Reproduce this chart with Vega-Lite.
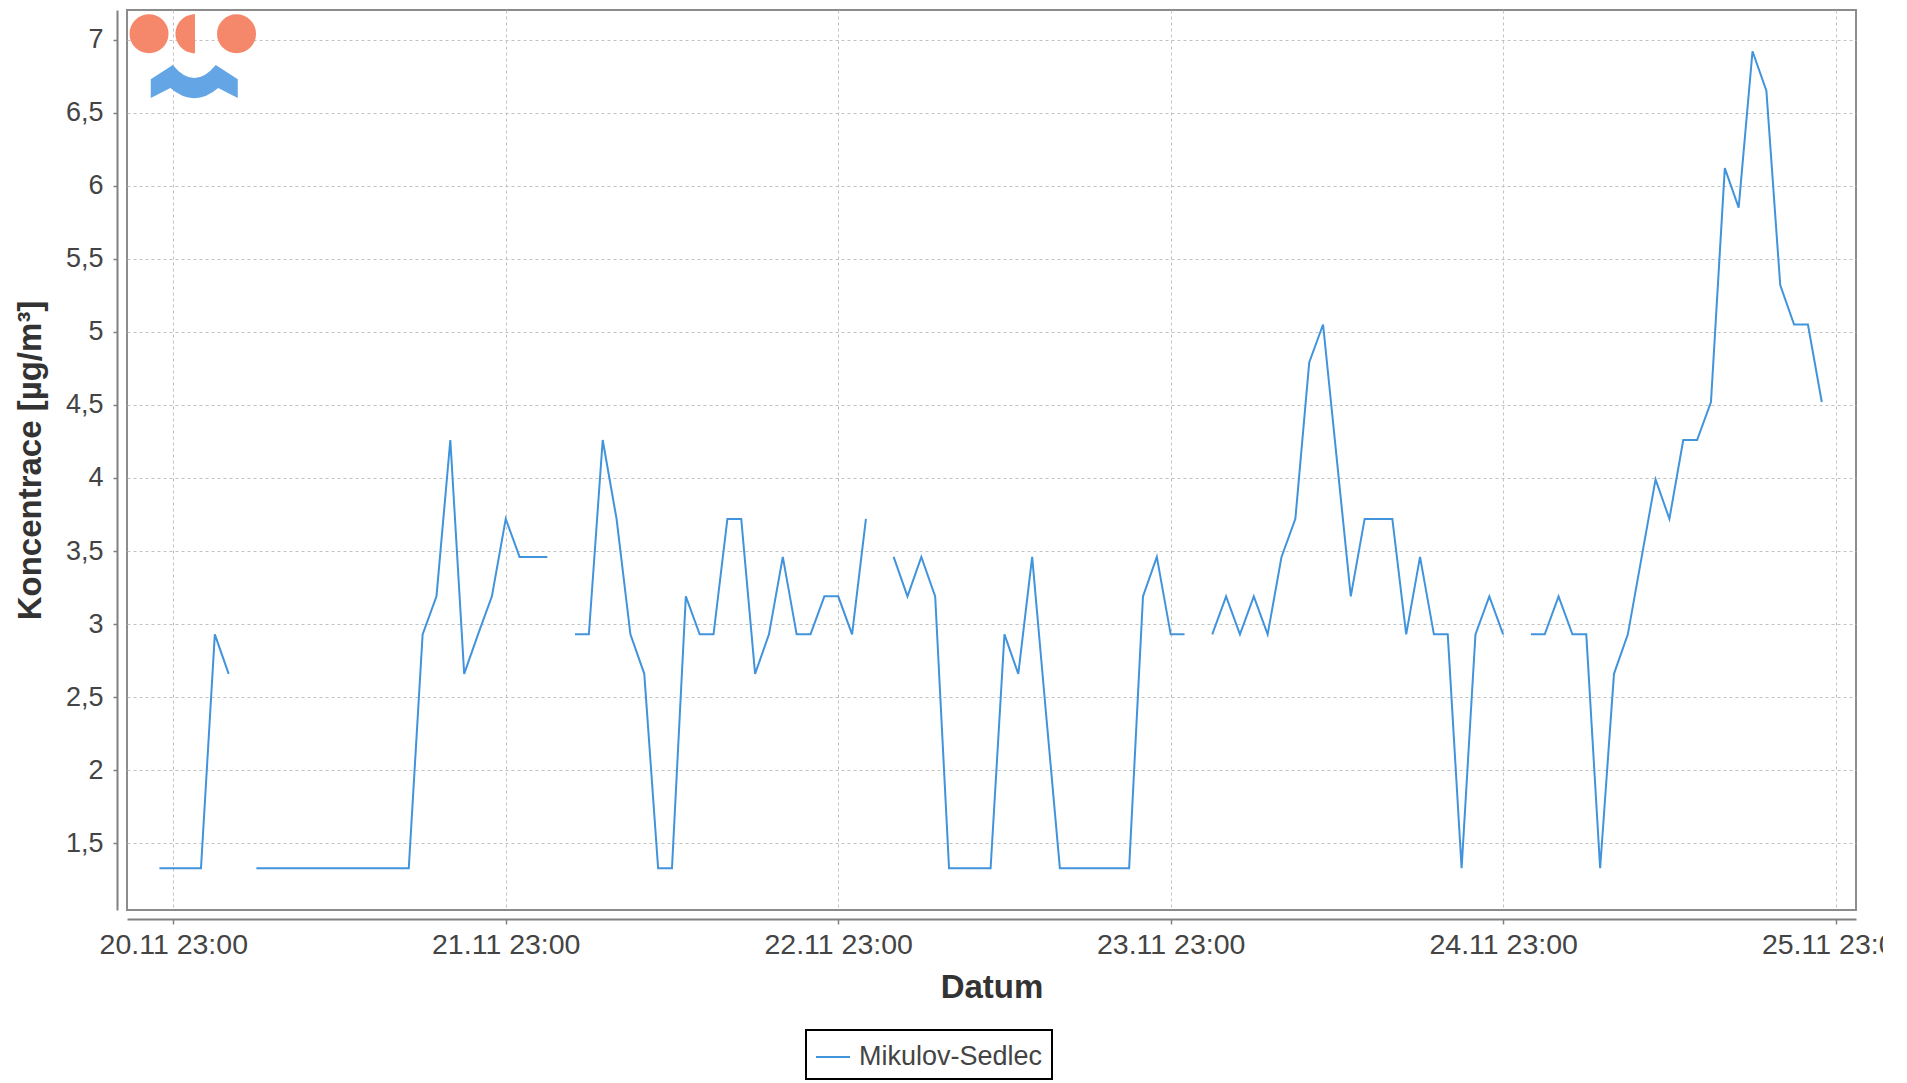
{
  "$schema": "https://vega.github.io/schema/vega-lite/v6.json",
  "width": 1729,
  "height": 900,
  "autosize": {"type": "none"},
  "padding": {"left": 127, "top": 10, "right": 27, "bottom": 173},
  "background": "white",
  "config": {
    "font": "Liberation Sans",
    "view": {"stroke": "#8c8c8c", "strokeWidth": 2},
    "axis": {
      "domainColor": "#808080",
      "domainWidth": 2,
      "tickColor": "#808080",
      "tickWidth": 1.5,
      "tickSize": 5,
      "gridColor": "#c2c2c2",
      "gridDash": [3, 3],
      "gridWidth": 1,
      "labelFont": "Liberation Sans",
      "labelFontSize": 27,
      "labelColor": "#444444",
      "titleFont": "Liberation Sans",
      "titleFontSize": 33,
      "titleFontWeight": "bold",
      "titleColor": "#333333"
    },
    "legend": {"strokeWidth": 2}
  },
  "datasets": {
    "series": [
      {"t": "2023-11-20T22:00:00Z", "c": 1.33, "s": "Mikulov-Sedlec"},
      {"t": "2023-11-20T23:00:00Z", "c": 1.33, "s": "Mikulov-Sedlec"},
      {"t": "2023-11-21T00:00:00Z", "c": 1.33, "s": "Mikulov-Sedlec"},
      {"t": "2023-11-21T01:00:00Z", "c": 1.33, "s": "Mikulov-Sedlec"},
      {"t": "2023-11-21T02:00:00Z", "c": 2.93, "s": "Mikulov-Sedlec"},
      {"t": "2023-11-21T03:00:00Z", "c": 2.66, "s": "Mikulov-Sedlec"},
      {"t": "2023-11-21T04:00:00Z", "c": null, "s": "Mikulov-Sedlec"},
      {"t": "2023-11-21T05:00:00Z", "c": 1.33, "s": "Mikulov-Sedlec"},
      {"t": "2023-11-21T06:00:00Z", "c": 1.33, "s": "Mikulov-Sedlec"},
      {"t": "2023-11-21T07:00:00Z", "c": 1.33, "s": "Mikulov-Sedlec"},
      {"t": "2023-11-21T08:00:00Z", "c": 1.33, "s": "Mikulov-Sedlec"},
      {"t": "2023-11-21T09:00:00Z", "c": 1.33, "s": "Mikulov-Sedlec"},
      {"t": "2023-11-21T10:00:00Z", "c": 1.33, "s": "Mikulov-Sedlec"},
      {"t": "2023-11-21T11:00:00Z", "c": 1.33, "s": "Mikulov-Sedlec"},
      {"t": "2023-11-21T12:00:00Z", "c": 1.33, "s": "Mikulov-Sedlec"},
      {"t": "2023-11-21T13:00:00Z", "c": 1.33, "s": "Mikulov-Sedlec"},
      {"t": "2023-11-21T14:00:00Z", "c": 1.33, "s": "Mikulov-Sedlec"},
      {"t": "2023-11-21T15:00:00Z", "c": 1.33, "s": "Mikulov-Sedlec"},
      {"t": "2023-11-21T16:00:00Z", "c": 1.33, "s": "Mikulov-Sedlec"},
      {"t": "2023-11-21T17:00:00Z", "c": 2.93, "s": "Mikulov-Sedlec"},
      {"t": "2023-11-21T18:00:00Z", "c": 3.19, "s": "Mikulov-Sedlec"},
      {"t": "2023-11-21T19:00:00Z", "c": 4.26, "s": "Mikulov-Sedlec"},
      {"t": "2023-11-21T20:00:00Z", "c": 2.66, "s": "Mikulov-Sedlec"},
      {"t": "2023-11-21T21:00:00Z", "c": 2.93, "s": "Mikulov-Sedlec"},
      {"t": "2023-11-21T22:00:00Z", "c": 3.19, "s": "Mikulov-Sedlec"},
      {"t": "2023-11-21T23:00:00Z", "c": 3.72, "s": "Mikulov-Sedlec"},
      {"t": "2023-11-22T00:00:00Z", "c": 3.46, "s": "Mikulov-Sedlec"},
      {"t": "2023-11-22T01:00:00Z", "c": 3.46, "s": "Mikulov-Sedlec"},
      {"t": "2023-11-22T02:00:00Z", "c": 3.46, "s": "Mikulov-Sedlec"},
      {"t": "2023-11-22T03:00:00Z", "c": null, "s": "Mikulov-Sedlec"},
      {"t": "2023-11-22T04:00:00Z", "c": 2.93, "s": "Mikulov-Sedlec"},
      {"t": "2023-11-22T05:00:00Z", "c": 2.93, "s": "Mikulov-Sedlec"},
      {"t": "2023-11-22T06:00:00Z", "c": 4.26, "s": "Mikulov-Sedlec"},
      {"t": "2023-11-22T07:00:00Z", "c": 3.72, "s": "Mikulov-Sedlec"},
      {"t": "2023-11-22T08:00:00Z", "c": 2.93, "s": "Mikulov-Sedlec"},
      {"t": "2023-11-22T09:00:00Z", "c": 2.66, "s": "Mikulov-Sedlec"},
      {"t": "2023-11-22T10:00:00Z", "c": 1.33, "s": "Mikulov-Sedlec"},
      {"t": "2023-11-22T11:00:00Z", "c": 1.33, "s": "Mikulov-Sedlec"},
      {"t": "2023-11-22T12:00:00Z", "c": 3.19, "s": "Mikulov-Sedlec"},
      {"t": "2023-11-22T13:00:00Z", "c": 2.93, "s": "Mikulov-Sedlec"},
      {"t": "2023-11-22T14:00:00Z", "c": 2.93, "s": "Mikulov-Sedlec"},
      {"t": "2023-11-22T15:00:00Z", "c": 3.72, "s": "Mikulov-Sedlec"},
      {"t": "2023-11-22T16:00:00Z", "c": 3.72, "s": "Mikulov-Sedlec"},
      {"t": "2023-11-22T17:00:00Z", "c": 2.66, "s": "Mikulov-Sedlec"},
      {"t": "2023-11-22T18:00:00Z", "c": 2.93, "s": "Mikulov-Sedlec"},
      {"t": "2023-11-22T19:00:00Z", "c": 3.46, "s": "Mikulov-Sedlec"},
      {"t": "2023-11-22T20:00:00Z", "c": 2.93, "s": "Mikulov-Sedlec"},
      {"t": "2023-11-22T21:00:00Z", "c": 2.93, "s": "Mikulov-Sedlec"},
      {"t": "2023-11-22T22:00:00Z", "c": 3.19, "s": "Mikulov-Sedlec"},
      {"t": "2023-11-22T23:00:00Z", "c": 3.19, "s": "Mikulov-Sedlec"},
      {"t": "2023-11-23T00:00:00Z", "c": 2.93, "s": "Mikulov-Sedlec"},
      {"t": "2023-11-23T01:00:00Z", "c": 3.72, "s": "Mikulov-Sedlec"},
      {"t": "2023-11-23T02:00:00Z", "c": null, "s": "Mikulov-Sedlec"},
      {"t": "2023-11-23T03:00:00Z", "c": 3.46, "s": "Mikulov-Sedlec"},
      {"t": "2023-11-23T04:00:00Z", "c": 3.19, "s": "Mikulov-Sedlec"},
      {"t": "2023-11-23T05:00:00Z", "c": 3.46, "s": "Mikulov-Sedlec"},
      {"t": "2023-11-23T06:00:00Z", "c": 3.19, "s": "Mikulov-Sedlec"},
      {"t": "2023-11-23T07:00:00Z", "c": 1.33, "s": "Mikulov-Sedlec"},
      {"t": "2023-11-23T08:00:00Z", "c": 1.33, "s": "Mikulov-Sedlec"},
      {"t": "2023-11-23T09:00:00Z", "c": 1.33, "s": "Mikulov-Sedlec"},
      {"t": "2023-11-23T10:00:00Z", "c": 1.33, "s": "Mikulov-Sedlec"},
      {"t": "2023-11-23T11:00:00Z", "c": 2.93, "s": "Mikulov-Sedlec"},
      {"t": "2023-11-23T12:00:00Z", "c": 2.66, "s": "Mikulov-Sedlec"},
      {"t": "2023-11-23T13:00:00Z", "c": 3.46, "s": "Mikulov-Sedlec"},
      {"t": "2023-11-23T14:00:00Z", "c": 2.39, "s": "Mikulov-Sedlec"},
      {"t": "2023-11-23T15:00:00Z", "c": 1.33, "s": "Mikulov-Sedlec"},
      {"t": "2023-11-23T16:00:00Z", "c": 1.33, "s": "Mikulov-Sedlec"},
      {"t": "2023-11-23T17:00:00Z", "c": 1.33, "s": "Mikulov-Sedlec"},
      {"t": "2023-11-23T18:00:00Z", "c": 1.33, "s": "Mikulov-Sedlec"},
      {"t": "2023-11-23T19:00:00Z", "c": 1.33, "s": "Mikulov-Sedlec"},
      {"t": "2023-11-23T20:00:00Z", "c": 1.33, "s": "Mikulov-Sedlec"},
      {"t": "2023-11-23T21:00:00Z", "c": 3.19, "s": "Mikulov-Sedlec"},
      {"t": "2023-11-23T22:00:00Z", "c": 3.46, "s": "Mikulov-Sedlec"},
      {"t": "2023-11-23T23:00:00Z", "c": 2.93, "s": "Mikulov-Sedlec"},
      {"t": "2023-11-24T00:00:00Z", "c": 2.93, "s": "Mikulov-Sedlec"},
      {"t": "2023-11-24T01:00:00Z", "c": null, "s": "Mikulov-Sedlec"},
      {"t": "2023-11-24T02:00:00Z", "c": 2.93, "s": "Mikulov-Sedlec"},
      {"t": "2023-11-24T03:00:00Z", "c": 3.19, "s": "Mikulov-Sedlec"},
      {"t": "2023-11-24T04:00:00Z", "c": 2.93, "s": "Mikulov-Sedlec"},
      {"t": "2023-11-24T05:00:00Z", "c": 3.19, "s": "Mikulov-Sedlec"},
      {"t": "2023-11-24T06:00:00Z", "c": 2.93, "s": "Mikulov-Sedlec"},
      {"t": "2023-11-24T07:00:00Z", "c": 3.46, "s": "Mikulov-Sedlec"},
      {"t": "2023-11-24T08:00:00Z", "c": 3.72, "s": "Mikulov-Sedlec"},
      {"t": "2023-11-24T09:00:00Z", "c": 4.79, "s": "Mikulov-Sedlec"},
      {"t": "2023-11-24T10:00:00Z", "c": 5.05, "s": "Mikulov-Sedlec"},
      {"t": "2023-11-24T11:00:00Z", "c": 4.12, "s": "Mikulov-Sedlec"},
      {"t": "2023-11-24T12:00:00Z", "c": 3.19, "s": "Mikulov-Sedlec"},
      {"t": "2023-11-24T13:00:00Z", "c": 3.72, "s": "Mikulov-Sedlec"},
      {"t": "2023-11-24T14:00:00Z", "c": 3.72, "s": "Mikulov-Sedlec"},
      {"t": "2023-11-24T15:00:00Z", "c": 3.72, "s": "Mikulov-Sedlec"},
      {"t": "2023-11-24T16:00:00Z", "c": 2.93, "s": "Mikulov-Sedlec"},
      {"t": "2023-11-24T17:00:00Z", "c": 3.46, "s": "Mikulov-Sedlec"},
      {"t": "2023-11-24T18:00:00Z", "c": 2.93, "s": "Mikulov-Sedlec"},
      {"t": "2023-11-24T19:00:00Z", "c": 2.93, "s": "Mikulov-Sedlec"},
      {"t": "2023-11-24T20:00:00Z", "c": 1.33, "s": "Mikulov-Sedlec"},
      {"t": "2023-11-24T21:00:00Z", "c": 2.93, "s": "Mikulov-Sedlec"},
      {"t": "2023-11-24T22:00:00Z", "c": 3.19, "s": "Mikulov-Sedlec"},
      {"t": "2023-11-24T23:00:00Z", "c": 2.93, "s": "Mikulov-Sedlec"},
      {"t": "2023-11-25T00:00:00Z", "c": null, "s": "Mikulov-Sedlec"},
      {"t": "2023-11-25T01:00:00Z", "c": 2.93, "s": "Mikulov-Sedlec"},
      {"t": "2023-11-25T02:00:00Z", "c": 2.93, "s": "Mikulov-Sedlec"},
      {"t": "2023-11-25T03:00:00Z", "c": 3.19, "s": "Mikulov-Sedlec"},
      {"t": "2023-11-25T04:00:00Z", "c": 2.93, "s": "Mikulov-Sedlec"},
      {"t": "2023-11-25T05:00:00Z", "c": 2.93, "s": "Mikulov-Sedlec"},
      {"t": "2023-11-25T06:00:00Z", "c": 1.33, "s": "Mikulov-Sedlec"},
      {"t": "2023-11-25T07:00:00Z", "c": 2.66, "s": "Mikulov-Sedlec"},
      {"t": "2023-11-25T08:00:00Z", "c": 2.93, "s": "Mikulov-Sedlec"},
      {"t": "2023-11-25T09:00:00Z", "c": 3.46, "s": "Mikulov-Sedlec"},
      {"t": "2023-11-25T10:00:00Z", "c": 3.99, "s": "Mikulov-Sedlec"},
      {"t": "2023-11-25T11:00:00Z", "c": 3.72, "s": "Mikulov-Sedlec"},
      {"t": "2023-11-25T12:00:00Z", "c": 4.26, "s": "Mikulov-Sedlec"},
      {"t": "2023-11-25T13:00:00Z", "c": 4.26, "s": "Mikulov-Sedlec"},
      {"t": "2023-11-25T14:00:00Z", "c": 4.52, "s": "Mikulov-Sedlec"},
      {"t": "2023-11-25T15:00:00Z", "c": 6.12, "s": "Mikulov-Sedlec"},
      {"t": "2023-11-25T16:00:00Z", "c": 5.85, "s": "Mikulov-Sedlec"},
      {"t": "2023-11-25T17:00:00Z", "c": 6.92, "s": "Mikulov-Sedlec"},
      {"t": "2023-11-25T18:00:00Z", "c": 6.65, "s": "Mikulov-Sedlec"},
      {"t": "2023-11-25T19:00:00Z", "c": 5.32, "s": "Mikulov-Sedlec"},
      {"t": "2023-11-25T20:00:00Z", "c": 5.05, "s": "Mikulov-Sedlec"},
      {"t": "2023-11-25T21:00:00Z", "c": 5.05, "s": "Mikulov-Sedlec"},
      {"t": "2023-11-25T22:00:00Z", "c": 4.52, "s": "Mikulov-Sedlec"}
    ],
    "logoCircles": [
      {"t": "2023-11-20T21:15:00Z", "c": 7.04},
      {"t": "2023-11-21T03:34:00Z", "c": 7.04}
    ],
    "logoHalf": [
      {"t": "2023-11-21T00:34:00Z", "c": 7.04}
    ],
    "logoWave": [
      {"t": "2023-11-21T00:31:00Z", "c": 6.713}
    ]
  },
  "layer": [
    {
      "data": {"name": "logoCircles"},
      "mark": {"type": "point", "shape": "circle", "filled": true, "size": 1521, "color": "#f5876a", "opacity": 1},
      "encoding": {
        "x": {"field": "t", "type": "temporal"},
        "y": {"field": "c", "type": "quantitative"}
      }
    },
    {
      "data": {"name": "logoHalf"},
      "mark": {"type": "point", "shape": "M0,-1A1,1,0,0,0,0,1Z", "filled": true, "size": 1521, "color": "#f5876a", "opacity": 1},
      "encoding": {
        "x": {"field": "t", "type": "temporal"},
        "y": {"field": "c", "type": "quantitative"}
      }
    },
    {
      "data": {"name": "logoWave"},
      "mark": {"type": "point", "shape": "M-1,-0.05L-0.494,-0.38Q0,0.22,0.494,-0.38L1,-0.05L1,0.38L0.55,0.15Q0,0.62,-0.55,0.15L-1,0.38Z", "filled": true, "size": 7569, "color": "#64a5e6", "opacity": 1},
      "encoding": {
        "x": {"field": "t", "type": "temporal"},
        "y": {"field": "c", "type": "quantitative"}
      }
    },
    {
      "data": {"name": "series"},
      "mark": {"type": "line", "strokeWidth": 2, "invalid": "break-paths-show-domains", "clip": true},
      "encoding": {
        "x": {
          "field": "t",
          "type": "temporal",
          "scale": {"type": "utc", "domain": ["2023-11-20T19:39:36Z", "2023-11-26T00:28:12Z"]},
          "axis": {
            "title": "Datum",
            "offset": 9,
            "format": "%d.%m %H:%M",
            "values": [
              {"year": 2023, "month": 11, "date": 20, "hours": 23, "utc": true},
              {"year": 2023, "month": 11, "date": 21, "hours": 23, "utc": true},
              {"year": 2023, "month": 11, "date": 22, "hours": 23, "utc": true},
              {"year": 2023, "month": 11, "date": 23, "hours": 23, "utc": true},
              {"year": 2023, "month": 11, "date": 24, "hours": 23, "utc": true},
              {"year": 2023, "month": 11, "date": 25, "hours": 23, "utc": true}
            ],
            "labelFontSize": 28.5,
            "labelPadding": 6,
            "labelOverlap": false,
            "labelFlush": false,
            "labelBound": false,
            "titlePadding": 13
          }
        },
        "y": {
          "field": "c",
          "type": "quantitative",
          "scale": {"domain": [1.044, 7.202], "nice": false, "zero": false},
          "axis": {
            "title": "Koncentrace [µg/m³]",
            "offset": 10,
            "values": [1.5, 2, 2.5, 3, 3.5, 4, 4.5, 5, 5.5, 6, 6.5, 7],
            "labelExpr": "replace(format(datum.value, '.1~f'), '.', ',')",
            "tickSize": 4,
            "labelPadding": 10,
            "titlePadding": 18
          }
        },
        "color": {
          "field": "s",
          "type": "nominal",
          "scale": {"domain": ["Mikulov-Sedlec"], "range": ["#4193dc"]},
          "legend": {
            "title": null,
            "orient": "none",
            "legendX": 679,
            "legendY": 1020,
            "symbolType": "stroke",
            "symbolSize": 1156,
            "symbolStrokeWidth": 2,
            "labelFontSize": 27,
            "labelFont": "Liberation Sans",
            "labelColor": "#444444",
            "labelLimit": 0,
            "labelOffset": 8,
            "padding": 9,
            "strokeColor": "#000000",
            "fillColor": "#ffffff"
          }
        }
      }
    }
  ]
}
